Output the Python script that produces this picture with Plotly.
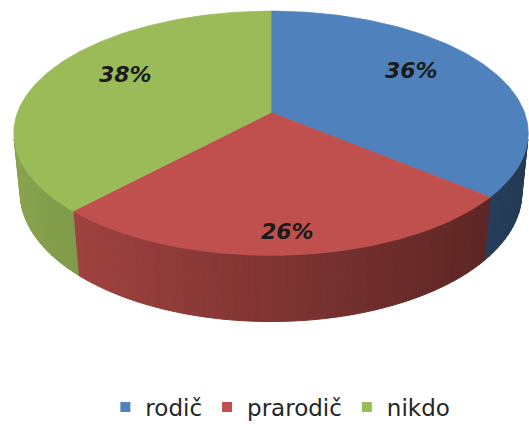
import numpy as np
import plotly.graph_objects as go

# Shares of respondents by who helps them
categories = ["rodič", "prarodič", "nikdo"]
shares = [36, 26, 38]
colors = ["#4F81BD", "#C0504D", "#9BBB59"]

W, H = 529, 429

# Perspective view of a flat cylinder (radius 1, thickness THICK)
CX, CY = 271, 113          # screen position of the pie centre
FOCAL = 1318.0
DIST = 5.2
SIN_A = 0.47
COS_A = np.sqrt(1 - SIN_A ** 2)
THICK = 0.27


def project(x, y, z):
    depth = DIST - y * SIN_A + z * COS_A
    sx = CX + FOCAL * x / depth
    sy = CY - FOCAL * (y * COS_A + z * SIN_A) / depth
    return sx, sy


def rim(theta_deg, y=0.0, r=1.0):
    t = np.radians(theta_deg)
    return project(r * np.sin(t), y, r * np.cos(t))


def hex_to_rgb(h):
    h = h.lstrip("#")
    return [int(h[i:i + 2], 16) for i in (0, 2, 4)]


def shade(hex_color, factor):
    r, g, b = hex_to_rgb(hex_color)
    return "rgb({},{},{})".format(int(r * factor), int(g * factor), int(b * factor))


total = sum(shares)
bounds = np.concatenate([[0], np.cumsum(shares)]) / total * 360.0

fig = go.Figure()

# Side wall: only the part that faces the viewer is drawn
vis_lo = np.degrees(np.arccos(-1.0 / (DIST * COS_A)))
vis_hi = 360.0 - vis_lo
for i, col in enumerate(colors):
    a, b = bounds[i], bounds[i + 1]
    lo, hi = max(a, vis_lo), min(b, vis_hi)
    if lo >= hi:
        continue
    steps = np.linspace(lo, hi, max(3, int((hi - lo) / 2) + 2))
    for t0, t1 in zip(steps[:-1], steps[1:]):
        p = [rim(t0), rim(t1), rim(t1, -THICK), rim(t0, -THICK)]
        xs = [q[0] for q in p] + [p[0][0]]
        ys = [q[1] for q in p] + [p[0][1]]
        mid_x = np.mean(xs[:4])
        f = 0.88 - 0.43 * (mid_x - 13) / (527 - 13)
        c = shade(col, f)
        fig.add_trace(go.Scatter(
            x=xs, y=ys, mode="lines", fill="toself", fillcolor=c,
            line=dict(color=c, width=1), hoverinfo="skip", showlegend=False))

# Top face slices
for i, col in enumerate(colors):
    a, b = bounds[i], bounds[i + 1]
    ts = np.linspace(a, b, int(b - a) + 2)
    pts = [project(0, 0, 0)] + [rim(t) for t in ts] + [project(0, 0, 0)]
    fig.add_trace(go.Scatter(
        x=[q[0] for q in pts], y=[q[1] for q in pts], mode="lines",
        fill="toself", fillcolor=col, line=dict(color=col, width=0.8),
        hoverinfo="text", text=f"{categories[i]}: {shares[i]}%", showlegend=False))

# Percentage labels
label_radius = [0.64, 0.86, 0.64]
label_lift = [11, 0, 11]
for i, v in enumerate(shares):
    mid = (bounds[i] + bounds[i + 1]) / 2
    lx, ly = rim(mid, 0.0, label_radius[i])
    fig.add_annotation(
        x=lx, y=ly, yshift=label_lift[i], text=f"<b><i>{v}%</i></b>",
        showarrow=False, xref="x", yref="y",
        font=dict(family="DejaVu Sans", size=22, color="#1b1b1b"))

# Legend entries
for name, col in zip(categories, colors):
    fig.add_trace(go.Scatter(
        x=[None], y=[None], mode="markers", name=name,
        marker=dict(symbol="square", size=10, color=col)))

fig.update_layout(
    width=W, height=H,
    margin=dict(l=0, r=0, t=0, b=0),
    paper_bgcolor="white", plot_bgcolor="white",
    xaxis=dict(range=[0, W], visible=False, fixedrange=True),
    yaxis=dict(range=[H, 0], visible=False, fixedrange=True),
    legend=dict(
        orientation="h", x=0.53, xanchor="center",
        y=1 - 409 / H, yanchor="middle",
        font=dict(family="DejaVu Sans", size=23, color="#262626"),
        itemwidth=30, traceorder="normal"),
)

fig.write_html("out.html")
